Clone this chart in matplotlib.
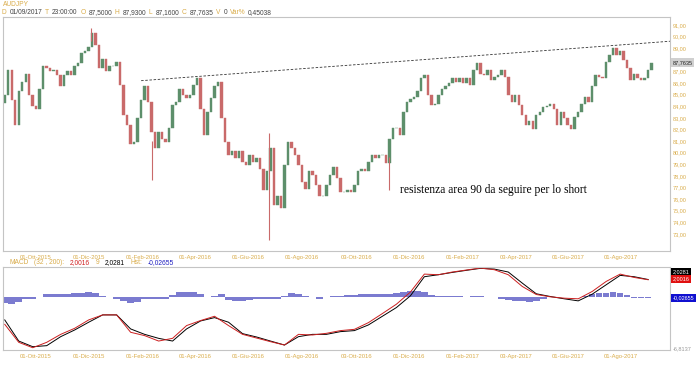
import matplotlib
matplotlib.use('Agg')
import matplotlib.pyplot as plt
import matplotlib.transforms as mtransforms
import pandas as pd

plt.rcParams['font.family'] = ['Liberation Sans', 'DejaVu Sans']

GOLD = '#d9ac4a'
VAL = '#444444'
UP = '#5d8f6b'
DOWN = '#c96a6a'
FRAME = '#c4c4c4'

# AUDJPY closes, one sample every 4 calendar days from 27 Aug 2015
START = '2015-08-27'
FIRST_OPEN = 84.3
CLOSES = [
    85.0, 87.1, 84.5, 82.4, 85.3, 86.1, 86.8, 85.0, 84.0, 83.8,
    85.5, 87.5, 87.3, 87.0, 87.1, 86.7, 85.7, 86.7, 87.0, 86.7,
    87.5, 87.7, 88.6, 88.8, 89.1, 90.3, 89.3, 87.3, 88.1, 87.0,
    87.5, 87.5, 87.8, 85.8, 83.2, 82.4, 80.7, 80.9, 83.0, 84.5,
    85.7, 84.4, 81.8, 80.4, 81.8, 81.2, 80.9, 82.1, 84.1, 84.4,
    85.5, 85.0, 84.7, 85.0, 85.8, 86.4, 83.8, 81.5, 83.5, 84.7,
    85.7, 86.1, 83.0, 80.9, 79.8, 80.1, 79.5, 80.1, 79.2, 78.9,
    79.8, 79.2, 79.5, 78.6, 76.8, 78.4, 80.4, 75.5, 76.3, 75.2,
    78.9, 80.9, 80.4, 79.8, 78.9, 77.5, 76.9, 78.4, 78.1, 77.2,
    76.3, 76.3, 77.2, 78.1, 78.8, 77.8, 76.6, 76.6, 76.8, 76.6,
    77.2, 78.4, 78.6, 78.4, 79.2, 79.8, 79.5, 79.8, 79.8, 79.1,
    81.2, 82.1, 82.1, 81.5, 83.5, 84.4, 84.6, 84.8, 85.3, 86.4,
    86.7, 85.0, 84.1, 84.2, 85.0, 85.5, 85.7, 86.0, 86.4, 86.1,
    86.4, 86.0, 86.4, 85.8, 87.1, 87.7, 86.8, 86.7, 87.1, 86.3,
    86.5, 86.7, 87.1, 86.5, 85.0, 84.4, 85.0, 84.1, 83.2, 82.4,
    82.7, 82.0, 83.2, 83.5, 83.9, 84.0, 84.2, 83.8, 82.4, 83.5,
    83.0, 82.4, 82.0, 83.1, 83.5, 84.2, 84.8, 84.4, 85.7, 86.7,
    86.5, 86.4, 87.8, 88.4, 89.0, 88.4, 88.8, 88.0, 87.3, 86.3,
    86.8, 86.4, 86.3, 86.4, 87.1, 87.7635,
]

# long wicks that stand out from the candles
SPIKE_DATES = ['2015-12-04', '2016-02-11', '2016-06-24', '2016-11-09']
SPIKE_HIGHS = [90.7, 81.0, 81.7, 79.6]
SPIKE_LOWS = [89.6, 77.6, 72.5, 76.8]

TREND_DATES = ['2016-01-30', '2017-09-26']
TREND_PRICES = [86.2, 89.6]

PRICE_TICKS = [73, 74, 75, 76, 77, 78, 79, 80, 81, 82, 83, 84, 85, 86, 87, 89, 90, 91]
LAST_PRICE = 87.7635

# MACD(32,200) lines, one sample every 16 days from START
MACD_LINE = [
    -3.59, -5.85, -6.53, -5.85, -4.85, -4.09, -3.04, -2.41, -2.41, -4.59,
    -5.01, -5.69, -5.35, -3.75, -3.12, -2.58, -3.75, -4.85, -5.31, -5.77,
    -6.19, -4.85, -4.93, -4.72, -4.38, -4.22, -3.38, -2.24, -1.07, 0.45,
    2.71, 2.63, 2.97, 3.22, 3.47, 3.26, 2.63, 1.16, 0.15, -0.14,
    -0.31, -0.39, 0.53, 1.79, 2.71, 2.29, 2.00,
]
SIGNAL_LINE = [
    -3.04, -5.69, -6.40, -6.27, -5.14, -4.30, -3.33, -2.41, -2.41, -4.17,
    -4.85, -5.35, -5.69, -4.17, -3.17, -2.75, -3.33, -4.76, -5.18, -5.69,
    -6.19, -5.14, -4.85, -4.85, -4.51, -4.38, -3.67, -2.58, -1.49, -0.02,
    2.38, 2.63, 2.92, 3.18, 3.43, 3.34, 2.97, 1.58, 0.24, -0.10,
    -0.39, -0.65, 0.19, 1.37, 2.55, 2.38, 2.03,
]
# histogram, one sample every 8 days from START
HIST = [
    -0.33, -0.39, -0.28, -0.11, -0.06, 0.03, 0.17, 0.19, 0.17, 0.17,
    0.22, 0.25, 0.28, 0.25, 0.06, 0.0, -0.06, -0.22, -0.33, -0.28,
    -0.11, -0.08, -0.11, -0.06, 0.11, 0.28, 0.30, 0.28, 0.17, 0.03,
    0.08, 0.17, -0.17, -0.22, -0.19, -0.14, -0.11, -0.08, -0.06, -0.06,
    0.06, 0.22, 0.17, 0.08, 0.03, -0.06, 0.03, 0.08, 0.06, 0.11,
    0.11, 0.17, 0.17, 0.17, 0.17, 0.19, 0.22, 0.28, 0.33, 0.33,
    0.28, 0.11, 0.06, 0.06, 0.06, 0.06, 0.03, 0.06, 0.06, 0.03,
    0.0, -0.06, -0.17, -0.19, -0.22, -0.28, -0.22, -0.06, 0.03, 0.03,
    0.03, 0.0, 0.03, 0.08, 0.17, 0.22, 0.25, 0.28, 0.22, 0.11,
    -0.03, -0.03, -0.03,
]

TICK_DATES = ['2015-10-01', '2015-12-01', '2016-02-01', '2016-04-01', '2016-06-01',
              '2016-08-01', '2016-10-03', '2016-12-01', '2017-02-01', '2017-04-03',
              '2017-06-01', '2017-08-01']
TICK_LABELS = ['01-Ott-2015', '01-Dic-2015', '01-Feb-2016', '01-Apr-2016', '01-Giu-2016',
               '01-Ago-2016', '03-Ott-2016', '01-Dic-2016', '01-Feb-2017', '03-Apr-2017',
               '01-Giu-2017', '01-Ago-2017']

XLIM = (pd.Timestamp('2015-08-25'), pd.Timestamp('2017-09-26'))


def style_axes(ax):
    for sp in ax.spines.values():
        sp.set_color(FRAME)
        sp.set_linewidth(0.8)
    ax.set_xlim(*XLIM)
    ax.set_xticks(pd.to_datetime(TICK_DATES))
    ax.set_xticklabels(TICK_LABELS)
    ax.tick_params(axis='x', length=0, labelsize=4.2, labelcolor=GOLD, pad=3)


def text_run(fig, x, y, pieces, size, gap=0.004):
    r = fig.canvas.get_renderer()
    for s, c in pieces:
        t = fig.text(x, y, s, color=c, fontsize=size, va='center', ha='left')
        x += t.get_window_extent(renderer=r).width / fig.bbox.width + gap


fig = plt.figure(figsize=(7, 3.65), dpi=100, facecolor='white')
ax = fig.add_axes([3 / 700, 114 / 365, 667 / 700, 234 / 365])
axm = fig.add_axes([3 / 700, 15 / 365, 667 / 700, 83 / 365])

# candles
dates = pd.date_range(START, periods=len(CLOSES), freq='4D')
opens = [FIRST_OPEN] + CLOSES[:-1]
colors = [UP if c >= o else DOWN for o, c in zip(opens, CLOSES)]
ax.bar(dates, [c - o for o, c in zip(opens, CLOSES)], bottom=opens, width=2.8,
       color=colors, edgecolor=colors, linewidth=0.3)
ax.vlines(pd.to_datetime(SPIKE_DATES), SPIKE_LOWS, SPIKE_HIGHS, color=DOWN, lw=0.8)
ax.plot(pd.to_datetime(TREND_DATES), TREND_PRICES, color='#333333', lw=0.6,
        linestyle=(0, (3, 2)))

style_axes(ax)
ax.set_ylim(71.52, 91.69)
ax.yaxis.tick_right()
ax.set_yticks(PRICE_TICKS)
ax.set_yticklabels([f'{v},00' for v in PRICE_TICKS])
ax.tick_params(axis='y', length=0, labelsize=4.0, labelcolor=GOLD, pad=2)
tr = mtransforms.blended_transform_factory(ax.transAxes, ax.transData)
ax.text(1.004, LAST_PRICE, f'{LAST_PRICE:.4f}'.replace('.', ','), transform=tr,
        fontsize=4.0, color='#222222', va='center', ha='left', clip_on=False,
        bbox=dict(boxstyle='square,pad=0.3', fc='#d0d0d0', ec='none'))

ax.text(0.595, 0.26, 'resistenza area 90 da seguire per lo short',
        transform=ax.transAxes, family='Liberation Serif', fontsize=8.3,
        color='black', va='center', ha='left')

# MACD panel
axh = axm.twinx()
hdates = pd.date_range(START, periods=len(HIST), freq='8D')
axh.bar(hdates, HIST, width=7.5, color='#7b7bd0', linewidth=0)
axh.set_ylim(-2.92, 1.69)
axh.set_yticks([])
for sp in axh.spines.values():
    sp.set_visible(False)

mdates_ = pd.date_range(START, periods=len(MACD_LINE), freq='16D')
axm.plot(mdates_, SIGNAL_LINE, color='black', lw=0.7)
axm.plot(mdates_, MACD_LINE, color='#cc1f1f', lw=0.7)
style_axes(axm)
axm.set_ylim(-6.8137, 3.6)
axm.set_yticks([])
axm.set_zorder(axh.get_zorder() + 1)
axm.patch.set_visible(False)

side = [(0.94, '2,0281', 'black'), (0.855, '2,0016', '#e01010'),
        (0.627, '-0,02655', '#1010d0')]
for yf, s, c in side:
    axm.text(1.004, yf, s, transform=axm.transAxes, fontsize=4.0, color='white',
             va='center', ha='left', clip_on=False,
             bbox=dict(boxstyle='square,pad=0.3', fc=c, ec='none'))
axm.text(1.004, 0.02, '-6,8137', transform=axm.transAxes, fontsize=4.0,
         color='#999999', va='center', ha='left', clip_on=False)

# headers
fig.text(3 / 700, 1 - 4 / 365, 'AUDJPY', color=GOLD, fontsize=4.8, va='center')
text_run(fig, 2 / 700, 1 - 13 / 365,
         [('D', GOLD), ('01/09/2017', VAL), ('T', GOLD), ('23:00:00', VAL),
          ('O', GOLD), ('87,5000', VAL), ('H', GOLD), ('87,9300', VAL),
          ('L', GOLD), ('87,1600', VAL), ('C', GOLD), ('87,7635', VAL),
          ('V', GOLD), ('0', VAL), ('Var%', GOLD), ('0,45038', VAL)], 4.8)
text_run(fig, 9 / 700, 1 - 263 / 365,
         [('MACD', GOLD), ('(32 , 200):', GOLD), ('2,0016', '#d02020'),
          ('9', GOLD), ('2,0281', 'black'), ('Hst:', GOLD), ('-0,02655', '#2020c0')],
         4.8, gap=0.008)

fig.savefig('out.png', dpi=100, facecolor='white')
